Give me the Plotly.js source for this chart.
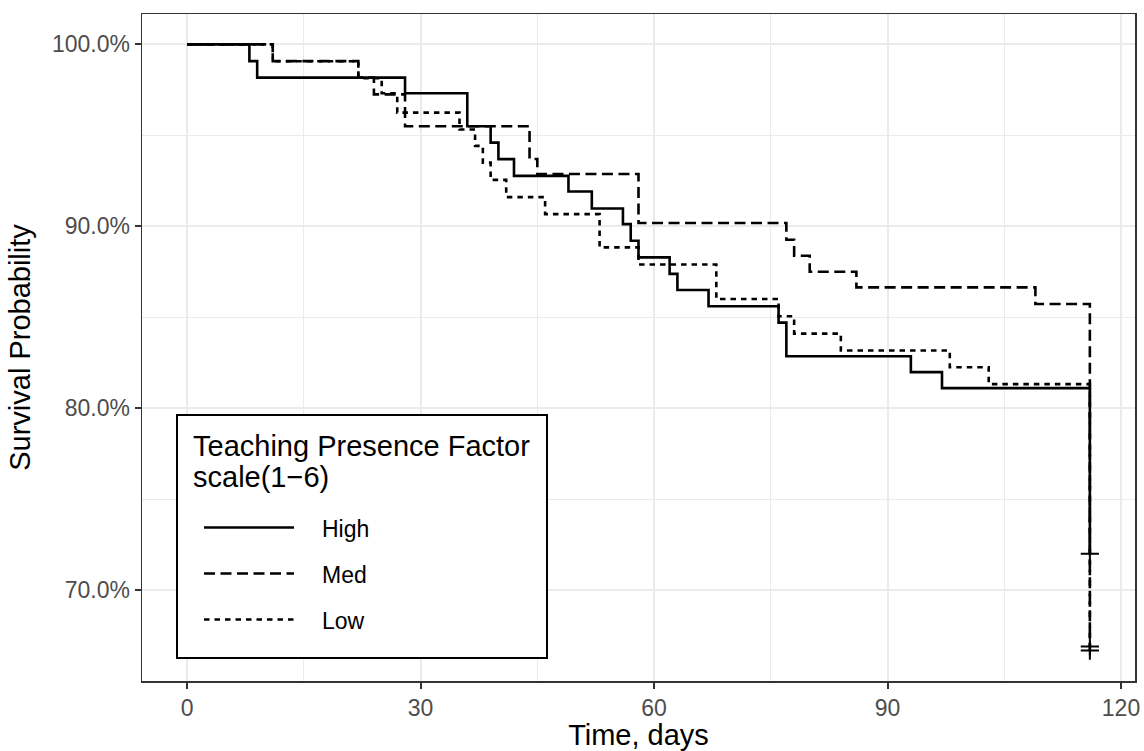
<!DOCTYPE html>
<html>
<head>
<meta charset="utf-8">
<script src="https://cdn.plot.ly/plotly-3.0.1.min.js"></script>
<style>html,body{margin:0;padding:0;background:#fff;}#chart{width:1144px;height:751px;}</style>
</head>
<body>
<div id="chart"></div>
<script>
// Kaplan-Meier step data (time in days, survival in %)
const highTime = [0, 8, 9, 28, 36, 39, 40, 42, 49, 52, 56, 57, 58, 62, 63, 67, 76, 77, 93, 97, 116];
const highSurv = [100, 99.08, 98.17, 97.31, 95.5, 94.6, 93.69, 92.77, 91.91, 90.98, 90.12, 89.2, 88.29, 87.38, 86.5, 85.6, 84.7, 82.85, 81.98, 81.1, 72.0];

const medTime = [0, 11, 22, 24, 28, 44, 45, 58, 77, 78, 80, 86, 109, 116];
const medSurv = [100, 99.08, 98.17, 97.25, 95.5, 93.7, 92.87, 90.18, 89.26, 88.38, 87.5, 86.64, 85.73, 66.67];

const lowTime = [0, 11, 22, 25, 27, 35, 37, 38, 39, 41, 46, 53, 58, 68, 76, 78, 84, 98, 103, 116];
const lowSurv = [100, 99.07, 98.14, 97.31, 96.25, 95.32, 94.42, 93.5, 92.55, 91.6, 90.67, 88.84, 87.9, 86.0, 85.05, 84.1, 83.17, 82.25, 81.32, 66.9];

// censoring marks (+)
const censorTime = [116, 116, 116];
const censorSurv = [72.0, 66.67, 66.9];

const groupNames = ["High", "Med", "Low"];
const legendTitle = ["Teaching Presence Factor", "scale(1\u22126)"];
const xTicks = [0, 30, 60, 90, 120];
const yTicks = [70, 80, 90, 100];
const yTickText = ["70.0%", "80.0%", "90.0%", "100.0%"];

const FONT = "Liberation Sans, Arial, sans-serif";
const DASHES = ["solid", "11px,5.5px", "5.5px,5px"];

// plot area in pixels (for placing the legend box in paper coordinates)
const M = {l: 142, r: 9, t: 14, b: 70};
const W = 1144, H = 751;
const PW = W - M.l - M.r, PH = H - M.t - M.b;
const px = v => (v - M.l) / PW;
const py = v => (H - M.b - v) / PH;

function stepTrace(x, y, name, dash) {
  return {
    x: x, y: y, name: name, type: "scatter", mode: "lines",
    line: {shape: "hv", color: "#000000", width: 2.6, dash: dash},
    showlegend: false, hoverinfo: "x+y"
  };
}

const data = [
  stepTrace(highTime, highSurv, groupNames[0], DASHES[0]),
  stepTrace(medTime, medSurv, groupNames[1], DASHES[1]),
  stepTrace(lowTime, lowSurv, groupNames[2], DASHES[2]),
  {
    x: censorTime, y: censorSurv, type: "scatter", mode: "markers",
    showlegend: false,
    marker: {symbol: "cross-thin", size: 13, color: "#000000", line: {color: "#000000", width: 2}}
  }
];

// legend drawn as shapes + annotations
const shapes = [{
  type: "rect", xref: "paper", yref: "paper", layer: "above",
  x0: px(177), x1: px(547), y0: py(658), y1: py(415),
  fillcolor: "#ffffff", line: {color: "#000000", width: 2}
}];
const itemY = [528, 574, 620];
groupNames.forEach((g, i) => {
  shapes.push({
    type: "line", xref: "paper", yref: "paper", layer: "above",
    x0: px(204), x1: px(294), y0: py(itemY[i] - 0.5), y1: py(itemY[i] - 0.5),
    line: {color: "#000000", width: 2.6, dash: DASHES[i]}
  });
});
const annotations = [
  {text: legendTitle[0], xref: "paper", yref: "paper", x: px(191), y: py(446), xanchor: "left", yanchor: "middle",
   showarrow: false, font: {size: 29, family: FONT, color: "#000000"}},
  {text: legendTitle[1], xref: "paper", yref: "paper", x: px(191), y: py(477), xanchor: "left", yanchor: "middle",
   showarrow: false, font: {size: 29, family: FONT, color: "#000000"}}
];
groupNames.forEach((g, i) => {
  annotations.push({text: g, xref: "paper", yref: "paper", x: px(320), y: py(itemY[i] + 1), xanchor: "left", yanchor: "middle",
    showarrow: false, font: {size: 23, family: FONT, color: "#000000"}});
});

const layout = {
  width: W, height: H,
  margin: M,
  paper_bgcolor: "#ffffff", plot_bgcolor: "#ffffff",
  font: {family: FONT, color: "#000000"},
  showlegend: false,
  xaxis: {
    range: [-5.8, 121.8], tickvals: xTicks, ticktext: xTicks.map(String),
    ticks: "outside", ticklen: 6, tickwidth: 2, tickcolor: "#333333",
    tickfont: {size: 23, color: "#4D4D4D", family: FONT},
    showgrid: true, gridcolor: "#EBEBEB", gridwidth: 2,
    minor: {tick0: 0, dtick: 15, showgrid: true, gridcolor: "#EBEBEB", gridwidth: 1, ticks: ""},
    zeroline: false, showline: true, linecolor: "#333333", linewidth: 1.5, mirror: true,
    title: {text: "Time, days", font: {size: 29, color: "#000000", family: FONT}, standoff: 8}
  },
  yaxis: {
    range: [65.0, 101.67], tickvals: yTicks, ticktext: yTickText,
    ticks: "outside", ticklen: 6, tickwidth: 2, tickcolor: "#333333",
    tickfont: {size: 23, color: "#4D4D4D", family: FONT},
    showgrid: true, gridcolor: "#EBEBEB", gridwidth: 2,
    minor: {tick0: 0, dtick: 5, showgrid: true, gridcolor: "#EBEBEB", gridwidth: 1, ticks: ""},
    zeroline: false, showline: true, linecolor: "#333333", linewidth: 1.5, mirror: true,
    title: {text: "Survival Probability", font: {size: 29, color: "#000000", family: FONT}, standoff: 12}
  },
  shapes: shapes,
  annotations: annotations
};

Plotly.newPlot("chart", data, layout, {displayModeBar: false, staticPlot: true});
</script>
</body>
</html>
